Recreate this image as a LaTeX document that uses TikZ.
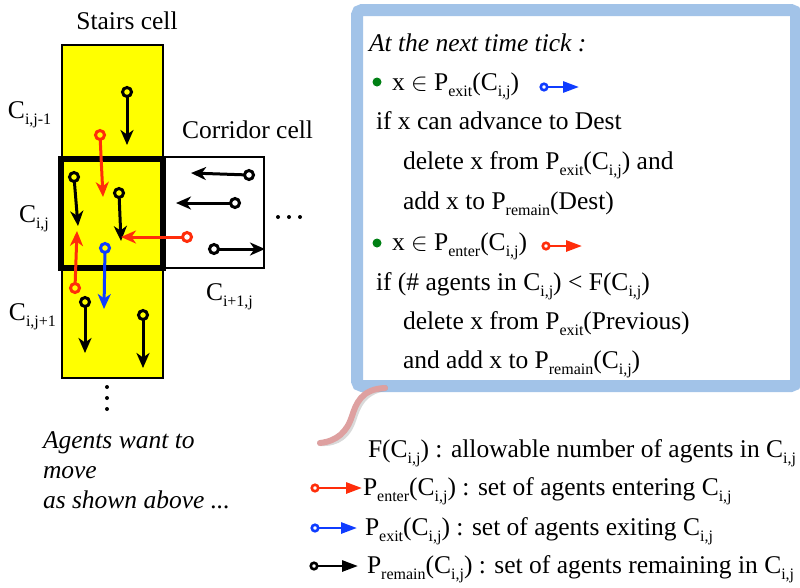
\documentclass[tikz,border=0pt]{standalone}
\usepackage{fontspec}
\setmainfont{Liberation Serif}
\usetikzlibrary{arrows.meta}

\definecolor{stairyellow}{RGB}{255,255,0}
\definecolor{agentred}{RGB}{255,45,10}
\definecolor{agentblue}{RGB}{15,60,255}
\definecolor{panelblue}{RGB}{162,195,232}
\definecolor{bulletgreen}{RGB}{0,128,20}
\definecolor{curlpink}{RGB}{222,160,160}

% lowered small text used for set and cell indices
\newcommand\lo[1]{\raisebox{-0.24em}{\fontsize{16}{16}\selectfont #1}}

\begin{document}
\begin{tikzpicture}[x=1pt,y=-1pt,
  every node/.style={font=\fontsize{25.5}{30}\selectfont, inner sep=0pt, outer sep=0pt},
  txt/.style={anchor=base west},
  celltitle/.style={anchor=base},
  agentdot/.style={circle, draw=#1, line width=3pt, minimum size=9pt},
  move/.style={draw=#1, line width=3pt, -{Stealth[length=15pt,width=13pt,inset=4.5pt]}},
  icondot/.style={circle, draw=#1, line width=2.6pt, minimum size=6.5pt},
  iconmove/.style={draw=#1, line width=2.8pt, -{Triangle[length=16pt,width=11pt]}},
  bullet/.style={circle, fill=bulletgreen, minimum size=9pt},
  dotmark/.style={circle, fill=black, minimum size=4pt}]

\useasboundingbox (0,0) rectangle (800,587);

% ---- stairs column and corridor cell
\node[draw, fill=stairyellow, line width=2pt, minimum width=101pt, minimum height=333pt]
  (stairs) at (112.5,211.5) {};
\node[draw, fill=white, line width=2pt, minimum width=101pt, minimum height=111pt]
  (corridor) at (213.5,212.5) {};
\node[draw, line width=5.5pt, minimum width=102pt, minimum height=109pt]
  (cij) at (112,213.5) {};

% ---- labels of the cells
\node[celltitle] (stairslbl) at (127,29) {Stairs cell};
\node[txt] (corrlbl) at (182,138) {Corridor cell};
\node[txt] (lup) at (8,118) {C\lo{i,j-1}};
\node[txt] (lmid) at (19,222) {C\lo{i,j}};
\node[txt] (ldown) at (9,320) {C\lo{i,j+1}};
\node[txt] (lright) at (206,300) {C\lo{i+1,j}};

% ---- continuation dots
\node[dotmark] (vd1) at (107,387) {};
\node[dotmark] (vd2) at (107,398) {};
\node[dotmark] (vd3) at (107,409) {};
\node[dotmark] (hd1) at (278,217) {};
\node[dotmark] (hd2) at (289,217) {};
\node[dotmark] (hd3) at (300,217) {};

% ---- agents: start circle and wanted move
\node[agentdot=black] (a1) at (127,92) {};
\coordinate (a1t) at (127,145);
\draw[move=black] (a1) -- (a1t);

\node[agentdot=agentred] (a2) at (100,135) {};
\coordinate (a2t) at (103,197);
\draw[move=agentred] (a2) -- (a2t);

\node[agentdot=black] (a3) at (74,177) {};
\coordinate (a3t) at (78,226);
\draw[move=black] (a3) -- (a3t);

\node[agentdot=black] (a4) at (119,193) {};
\coordinate (a4t) at (121,241);
\draw[move=black] (a4) -- (a4t);

\node[agentdot=agentred] (a5) at (187,237) {};
\coordinate (a5t) at (121,237);
\draw[move=agentred] (a5) -- (a5t);

\node[agentdot=agentred] (a6) at (75,288) {};
\coordinate (a6t) at (77,231);
\draw[move=agentred] (a6) -- (a6t);

\node[agentdot=agentblue] (a7) at (105,248) {};
\coordinate (a7t) at (104,309);
\draw[move=agentblue] (a7) -- (a7t);

\node[agentdot=black] (a8) at (249,175) {};
\coordinate (a8t) at (191,173);
\draw[move=black] (a8) -- (a8t);

\node[agentdot=black] (a9) at (235,203) {};
\coordinate (a9t) at (176,203);
\draw[move=black] (a9) -- (a9t);

\node[agentdot=black] (a10) at (214,249) {};
\coordinate (a10t) at (265,249);
\draw[move=black] (a10) -- (a10t);

\node[agentdot=black] (a11) at (85,302) {};
\coordinate (a11t) at (85,353);
\draw[move=black] (a11) -- (a11t);

\node[agentdot=black] (a12) at (143,315) {};
\coordinate (a12t) at (143,368);
\draw[move=black] (a12) -- (a12t);

% ---- caption under the column
\node[txt, font=\fontsize{25.5}{30}\selectfont\itshape] (cap1) at (43,448) {Agents want to};
\node[txt, font=\fontsize{25.5}{30}\selectfont\itshape] (cap2) at (43,478) {move};
\node[txt, font=\fontsize{25.5}{30}\selectfont\itshape] (cap3) at (43,508) {as shown above ...};

% ---- rule panel
\node[draw=panelblue, fill=white, line width=12pt, rounded corners=5pt,
  minimum width=439pt, minimum height=376pt] (panel) at (576.5,198) {};

\node[txt, font=\fontsize{25.5}{30}\selectfont\itshape] (r1) at (369,51) {At the next time tick :};
\node[bullet] (b1) at (377,82) {};
\node[txt] (r2) at (392,90) {x $\in$ P\lo{exit}(C\lo{i,j})};
\node[icondot=agentblue] (ib) at (544,87) {};
\coordinate (ibt) at (579,87);
\draw[iconmove=agentblue] (ib) -- (ibt);
\node[txt] (r3) at (376,129) {if x can advance to Dest};
\node[txt] (r4) at (403,169) {delete x from P\lo{exit}(C\lo{i,j}) and};
\node[txt] (r5) at (403,209) {add x to P\lo{remain}(Dest)};
\node[bullet] (b2) at (377,243) {};
\node[txt] (r6) at (392,250) {x $\in$ P\lo{enter}(C\lo{i,j})};
\node[icondot=agentred] (ir) at (546,246) {};
\coordinate (irt) at (582,246);
\draw[iconmove=agentred] (ir) -- (irt);
\node[txt] (r7) at (376,290) {if (\# agents in C\lo{i,j}) < F(C\lo{i,j})};
\node[txt] (r8) at (403,329) {delete x from P\lo{exit}(Previous)};
\node[txt] (r9) at (403,368) {and add x to P\lo{remain}(C\lo{i,j})};

% ---- curled callout stroke below the panel
\coordinate (cs) at (385,388);
\coordinate (ce) at (320,443);
\draw[gray, opacity=0.3, line width=6pt, line cap=round, shift={(1.5,3)}]
  (cs) .. controls (361,389) and (356,404) .. (352,416)
       .. controls (347,432) and (337,441) .. (ce);
\draw[curlpink, line width=6pt, line cap=round]
  (cs) .. controls (361,389) and (356,404) .. (352,416)
       .. controls (347,432) and (337,441) .. (ce);

% ---- legend
\node[txt] (g1) at (368,457) {F(C\lo{i,j}) : allowable number of agents in C\lo{i,j}};

\node[icondot=agentred] (gr) at (315,488) {};
\coordinate (grt) at (362,488);
\draw[iconmove=agentred] (gr) -- (grt);
\node[txt] (g2) at (363,495) {P\lo{enter}(C\lo{i,j}) : set of agents entering C\lo{i,j}};

\node[icondot=agentblue] (gb) at (315,528) {};
\coordinate (gbt) at (357,528);
\draw[iconmove=agentblue] (gb) -- (gbt);
\node[txt] (g3) at (365,535) {P\lo{exit}(C\lo{i,j}) : set of agents exiting C\lo{i,j}};

\node[icondot=black] (gk) at (314,566) {};
\coordinate (gkt) at (358,566);
\draw[iconmove=black] (gk) -- (gkt);
\node[txt] (g4) at (367,573) {P\lo{remain}(C\lo{i,j}) : set of agents remaining in C\lo{i,j}};

\end{tikzpicture}
\end{document}
